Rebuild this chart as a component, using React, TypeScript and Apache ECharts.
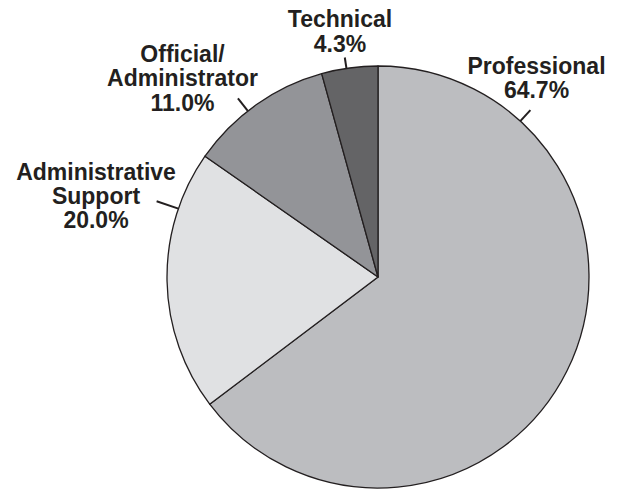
import React, { useEffect, useRef } from "react";
import * as echarts from "echarts";

const categories = ["Professional", "Administrative Support", "Official/Administrator", "Technical"];
const labelNames = ["Professional", "Administrative\nSupport", "Official/\nAdministrator", "Technical"];
const values = [64.7, 20.0, 11.0, 4.3];
const colors = ["#bcbdc0", "#e0e1e3", "#939498", "#646466"];

// layout configuration (pixels / degrees)
const CX = 378;
const CY = 277;
const R = 211;
const leaderAngles = [42.4, 288.9, 321.9, 351.4];
const leaderLengths = [15, 23, 16, 11];
const labelLineHeights = [24.5, 24, 24.5, 25];
const labelPos = [
  [536.5, 78],
  [96, 196],
  [182.5, 78],
  [340, 31],
];

export default function App() {
  const ref = useRef<HTMLDivElement>(null);
  useEffect(() => {
    if (!ref.current) return;
    const chart = echarts.init(ref.current, undefined, { renderer: "svg" });
    const data = categories.map((c, i) => ({
      name: c,
      value: values[i],
      itemStyle: { color: colors[i] },
      label: { lineHeight: labelLineHeights[i] },
    }));
    chart.setOption({
      animation: false,
      backgroundColor: "#ffffff",
      series: [
        {
          type: "pie",
          center: [CX, CY],
          radius: R,
          startAngle: 90,
          clockwise: true,
          avoidLabelOverlap: false,
          data,
          itemStyle: { borderColor: "#231f20", borderWidth: 1.3 },
          emphasis: { disabled: true },
          label: {
            show: true,
            position: "outside",
            formatter: (p: any) => `${labelNames[p.dataIndex]}\n${values[p.dataIndex].toFixed(1)}%`,
            fontFamily: "Liberation Sans, Arial, Helvetica, sans-serif",
            fontWeight: "bold",
            fontSize: 23,
            lineHeight: 24.5,
            color: "#231f20",
            align: "center",
          },
          labelLine: {
            show: true,
            lineStyle: { color: "#231f20", width: 2 },
          },
          labelLayout: (params: any) => {
            const i = params.dataIndex;
            const a = (leaderAngles[i] * Math.PI) / 180;
            const r2 = R + leaderLengths[i];
            return {
              x: labelPos[i][0],
              y: labelPos[i][1],
              align: "center",
              verticalAlign: "middle",
              labelLinePoints: [
                [CX + R * Math.sin(a), CY - R * Math.cos(a)],
                [CX + r2 * Math.sin(a), CY - r2 * Math.cos(a)],
              ],
            };
          },
        },
      ],
    });
    return () => chart.dispose();
  }, []);
  return (
    <div
      ref={ref}
      style={{ position: "fixed", left: 0, top: 0, width: 623, height: 489 }}
    />
  );
}
